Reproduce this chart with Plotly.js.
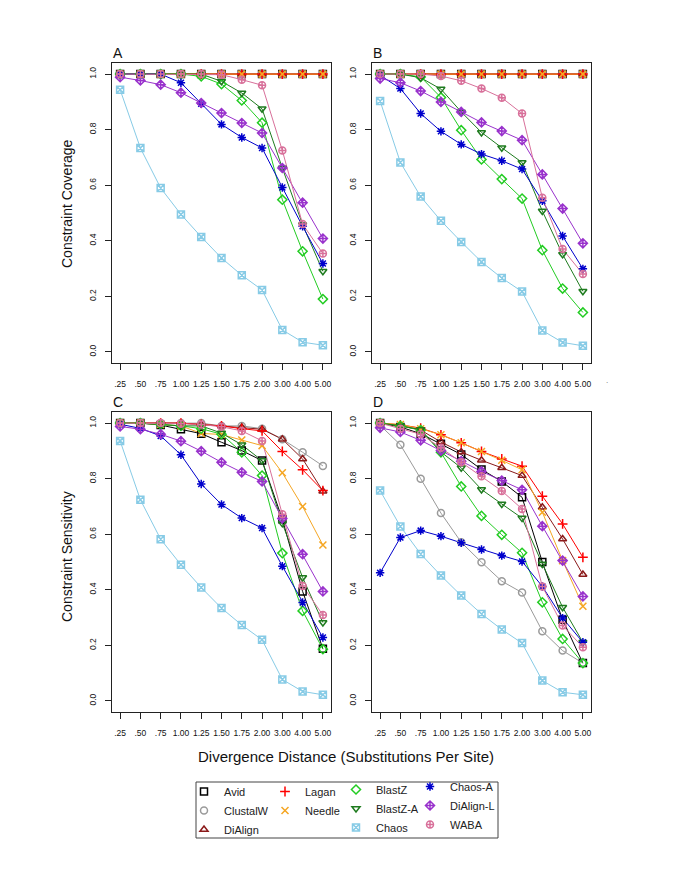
<!DOCTYPE html>
<html>
<head>
<meta charset="utf-8">
<script src="https://cdn.plot.ly/plotly-3.0.1.min.js"></script>
<style>html,body{margin:0;padding:0;background:#fff;}#chart{width:685px;height:886px;}</style>
</head>
<body>
<div id="chart"></div>
<script>
// ---- categories / tick labels ----
const distances = [".25", ".50", ".75", "1.00", "1.25", "1.50", "1.75", "2.00", "3.00", "4.00", "5.00"];
const yTickVals = [0, 0.2, 0.4, 0.6, 0.8, 1.0];
const yTickText = ["0.0", "0.2", "0.4", "0.6", "0.8", "1.0"];
const methods = ["Avid", "ClustalW", "DiAlign", "Lagan", "Needle", "BlastZ", "BlastZ-A", "Chaos", "Chaos-A", "DiAlign-L", "WABA"];

// ---- Panel A: constraint coverage ----
const A_Avid     = [1, 1, 1, 1, 1, 1, 1, 1, 1, 1, 1];
const A_ClustalW = [1, 1, 1, 1, 1, 1, 1, 1, 1, 1, 1];
const A_DiAlign  = [1, 1, 1, 1, 1, 1, 1, 1, 1, 1, 1];
const A_Lagan    = [1, 1, 1, 1, 1, 1, 1, 1, 1, 1, 1];
const A_Needle   = [1, 1, 1, 1, 1, 1, 1, 1, 1, 1, 1];
const A_BlastZ   = [1, 1, 1, 1, 0.992, 0.964, 0.905, 0.825, 0.548, 0.362, 0.19];
const A_BlastZA  = [1, 1, 1, 1, 1, 0.974, 0.932, 0.875, 0.662, 0.458, 0.29];
const A_Chaos    = [0.944, 0.734, 0.590, 0.495, 0.414, 0.338, 0.276, 0.223, 0.079, 0.035, 0.024];
const A_ChaosA   = [1, 1, 1, 0.969, 0.893, 0.819, 0.772, 0.734, 0.592, 0.452, 0.318];
const A_DiAlignL = [0.989, 0.977, 0.962, 0.933, 0.896, 0.860, 0.824, 0.788, 0.662, 0.537, 0.408];
const A_WABA     = [1, 1, 1, 1, 1, 0.998, 0.98, 0.96, 0.725, 0.46, 0.354];

// ---- Panel B: constraint coverage ----
const B_Avid     = [1, 1, 1, 1, 1, 1, 1, 1, 1, 1, 1];
const B_ClustalW = [1, 1, 1, 1, 1, 1, 1, 1, 1, 1, 1];
const B_DiAlign  = [1, 1, 1, 1, 1, 1, 1, 1, 1, 1, 1];
const B_Lagan    = [1, 1, 1, 1, 1, 1, 1, 1, 1, 1, 1];
const B_Needle   = [1, 1, 1, 1, 1, 1, 1, 1, 1, 1, 1];
const B_BlastZ   = [1, 1, 0.99, 0.916, 0.798, 0.693, 0.622, 0.552, 0.366, 0.228, 0.142];
const B_BlastZA  = [1, 1, 0.987, 0.946, 0.864, 0.79, 0.735, 0.682, 0.507, 0.351, 0.218];
const B_Chaos    = [0.903, 0.682, 0.559, 0.472, 0.396, 0.324, 0.266, 0.217, 0.077, 0.034, 0.022];
const B_ChaosA   = [0.996, 0.948, 0.858, 0.794, 0.747, 0.712, 0.688, 0.658, 0.544, 0.417, 0.299];
const B_DiAlignL = [0.984, 0.969, 0.939, 0.900, 0.864, 0.826, 0.795, 0.762, 0.639, 0.516, 0.391];
const B_WABA     = [1, 1, 1, 0.993, 0.976, 0.948, 0.915, 0.858, 0.555, 0.37, 0.28];

// ---- Panel C: constraint sensitivity ----
const C_Avid     = [1, 1, 0.993, 0.978, 0.962, 0.931, 0.901, 0.865, 0.654, 0.394, 0.188];
const C_ClustalW = [1, 1, 1, 1, 1, 0.99, 0.99, 0.98, 0.942, 0.895, 0.846];
const C_DiAlign  = [1, 1, 1, 1, 0.995, 0.99, 0.985, 0.978, 0.942, 0.871, 0.755];
const C_Lagan    = [1, 1, 1, 1, 0.995, 0.99, 0.98, 0.972, 0.898, 0.832, 0.757];
const C_Needle   = [1, 1, 0.995, 0.99, 0.963, 0.959, 0.939, 0.919, 0.821, 0.70, 0.561];
const C_BlastZ   = [1, 1, 0.995, 0.99, 0.98, 0.96, 0.895, 0.811, 0.532, 0.324, 0.186];
const C_BlastZA  = [1, 1, 0.995, 0.99, 0.99, 0.964, 0.922, 0.865, 0.639, 0.444, 0.282];
const C_Chaos    = [0.936, 0.724, 0.582, 0.49, 0.408, 0.334, 0.273, 0.22, 0.077, 0.034, 0.022];
const C_ChaosA   = [0.996, 0.981, 0.954, 0.886, 0.781, 0.707, 0.658, 0.622, 0.485, 0.354, 0.228];
const C_DiAlignL = [0.988, 0.978, 0.96, 0.935, 0.899, 0.859, 0.823, 0.79, 0.657, 0.528, 0.394];
const C_WABA     = [1, 1, 1, 0.998, 0.995, 0.987, 0.972, 0.936, 0.672, 0.414, 0.309];

// ---- Panel D: constraint sensitivity ----
const D_Avid     = [1, 0.986, 0.962, 0.926, 0.887, 0.833, 0.79, 0.733, 0.5, 0.292, 0.136];
const D_ClustalW = [0.992, 0.922, 0.80, 0.676, 0.571, 0.499, 0.431, 0.39, 0.251, 0.181, 0.136];
const D_DiAlign  = [1, 0.99, 0.975, 0.932, 0.896, 0.866, 0.839, 0.811, 0.697, 0.583, 0.455];
const D_Lagan    = [1, 0.994, 0.982, 0.958, 0.929, 0.898, 0.871, 0.845, 0.737, 0.637, 0.517];
const D_Needle   = [1, 0.995, 0.98, 0.958, 0.929, 0.898, 0.866, 0.832, 0.679, 0.505, 0.341];
const D_BlastZ   = [1, 0.99, 0.975, 0.895, 0.772, 0.666, 0.598, 0.533, 0.355, 0.223, 0.136];
const D_BlastZA  = [1, 0.99, 0.977, 0.896, 0.839, 0.761, 0.709, 0.658, 0.493, 0.337, 0.211];
const D_Chaos    = [0.757, 0.628, 0.529, 0.451, 0.379, 0.313, 0.257, 0.208, 0.073, 0.031, 0.022];
const D_ChaosA   = [0.461, 0.588, 0.613, 0.593, 0.569, 0.545, 0.523, 0.502, 0.412, 0.298, 0.211];
const D_DiAlignL = [0.983, 0.968, 0.938, 0.901, 0.863, 0.826, 0.793, 0.76, 0.629, 0.505, 0.376];
const D_WABA     = [1, 0.98, 0.96, 0.911, 0.859, 0.809, 0.756, 0.691, 0.412, 0.271, 0.193];

// ---- styles ----
const styles = {
  "Avid":      {color: "#000000", symbol: "square-open",        legend: "legend"},
  "ClustalW":  {color: "#9a9a9a", symbol: "circle-open",        legend: "legend"},
  "DiAlign":   {color: "#8b1a1a", symbol: "triangle-up-open",   legend: "legend"},
  "Lagan":     {color: "#ff0000", symbol: "cross-thin-open",    legend: "legend2"},
  "Needle":    {color: "#f5a623", symbol: "x-thin-open",        legend: "legend2"},
  "BlastZ":    {color: "#22cc22", symbol: "diamond-open",       legend: "legend3"},
  "BlastZ-A":  {color: "#1e7b1e", symbol: "triangle-down-open", legend: "legend3"},
  "Chaos":     {color: "#87cbe6", symbol: "square-x-open",      legend: "legend3"},
  "Chaos-A":   {color: "#0000cc", symbol: "asterisk-open",      legend: "legend4"},
  "DiAlign-L": {color: "#9932cc", symbol: "diamond-cross-open", legend: "legend4"},
  "WABA":      {color: "#d8709a", symbol: "circle-cross-open",  legend: "legend4"}
};

const panels = [
  {xa: "x",  ya: "y",  series: [A_Avid, A_ClustalW, A_DiAlign, A_Lagan, A_Needle, A_BlastZ, A_BlastZA, A_Chaos, A_ChaosA, A_DiAlignL, A_WABA], legend: true},
  {xa: "x2", ya: "y2", series: [B_Avid, B_ClustalW, B_DiAlign, B_Lagan, B_Needle, B_BlastZ, B_BlastZA, B_Chaos, B_ChaosA, B_DiAlignL, B_WABA], legend: false},
  {xa: "x3", ya: "y3", series: [C_Avid, C_ClustalW, C_DiAlign, C_Lagan, C_Needle, C_BlastZ, C_BlastZA, C_Chaos, C_ChaosA, C_DiAlignL, C_WABA], legend: false},
  {xa: "x4", ya: "y4", series: [D_Avid, D_ClustalW, D_DiAlign, D_Lagan, D_Needle, D_BlastZ, D_BlastZA, D_Chaos, D_ChaosA, D_DiAlignL, D_WABA], legend: false}
];

const traces = [];
panels.forEach(p => {
  methods.forEach((m, i) => {
    const s = styles[m];
    traces.push({
      type: "scatter", mode: "lines", x: distances, y: p.series[i],
      xaxis: p.xa, yaxis: p.ya, name: m, showlegend: false, hoverinfo: "skip",
      line: {color: s.color, width: 1}
    });
  });
  methods.forEach((m, i) => {
    const s = styles[m];
    traces.push({
      type: "scatter", mode: "markers", x: distances, y: p.series[i],
      xaxis: p.xa, yaxis: p.ya, name: m, showlegend: p.legend, legend: s.legend,
      marker: {symbol: s.symbol, size: 7, color: s.color, line: {color: s.color, width: 1.5}}
    });
  });
});

const W = 685, H = 886;
const px = v => v / W;
const py = v => 1 - v / H;

function xAxis(l, r, anchor) {
  return {
    domain: [px(l), px(r)], anchor: anchor, type: "category",
    categoryarray: distances, categoryorder: "array",
    range: [-0.4, 10.4], showline: true, mirror: true, linecolor: "#222", linewidth: 1,
    ticks: "outside", ticklen: 6, tickcolor: "#222", tickwidth: 1,
    tickfont: {size: 8.5, color: "#111"}, ticklabelstandoff: 7,
    showgrid: false, zeroline: false, fixedrange: true
  };
}
function yAxis(t, b, anchor) {
  return {
    domain: [py(b), py(t)], anchor: anchor, range: [-0.04, 1.04],
    tickvals: yTickVals, ticktext: yTickText, tickangle: -90,
    showline: true, mirror: true, linecolor: "#222", linewidth: 1,
    ticks: "outside", ticklen: 6, tickcolor: "#222", tickwidth: 1,
    tickfont: {size: 8.5, color: "#111"}, ticklabelstandoff: 6,
    showgrid: false, zeroline: false, fixedrange: true
  };
}

const legendBase = {
  yanchor: "top", xanchor: "left", orientation: "v",
  bgcolor: "rgba(0,0,0,0)", borderwidth: 0,
  font: {size: 11, color: "#222"}, itemclick: false, itemdoubleclick: false
};

const layout = {
  width: W, height: H,
  margin: {l: 0, r: 0, t: 0, b: 0},
  paper_bgcolor: "#fff", plot_bgcolor: "#fff",
  font: {family: "Liberation Sans, Arial, sans-serif", color: "#111"},
  showlegend: true,
  xaxis:  xAxis(112, 331, "y"),
  yaxis:  yAxis(63, 363, "x"),
  xaxis2: xAxis(372, 591, "y2"),
  yaxis2: yAxis(63, 363, "x2"),
  xaxis3: xAxis(112, 331, "y3"),
  yaxis3: yAxis(412, 712, "x3"),
  xaxis4: xAxis(372, 591, "y4"),
  yaxis4: yAxis(412, 712, "x4"),
  legend:  Object.assign({}, legendBase, {x: px(184), y: py(777)}),
  legend2: Object.assign({}, legendBase, {x: px(265), y: py(777)}),
  legend3: Object.assign({}, legendBase, {x: px(336), y: py(775)}),
  legend4: Object.assign({}, legendBase, {x: px(410), y: py(772)}),
  shapes: [
    {type: "rect", xref: "paper", yref: "paper", x0: px(196), x1: px(498), y0: py(838), y1: py(782),
     line: {color: "#444", width: 1}, fillcolor: "rgba(0,0,0,0)"}
  ],
  annotations: [
    {text: "A", x: px(111), y: py(53), xref: "paper", yref: "paper", xanchor: "left", yanchor: "middle", showarrow: false, font: {size: 14}},
    {text: "B", x: px(371), y: py(53), xref: "paper", yref: "paper", xanchor: "left", yanchor: "middle", showarrow: false, font: {size: 14}},
    {text: "C", x: px(111), y: py(402), xref: "paper", yref: "paper", xanchor: "left", yanchor: "middle", showarrow: false, font: {size: 14}},
    {text: "D", x: px(371), y: py(402), xref: "paper", yref: "paper", xanchor: "left", yanchor: "middle", showarrow: false, font: {size: 14}},
    {text: "Constraint Coverage", x: px(67), y: py(204), xref: "paper", yref: "paper", textangle: -90, xanchor: "center", yanchor: "middle", showarrow: false, font: {size: 14}},
    {text: "Constraint Sensitivity", x: px(67), y: py(557), xref: "paper", yref: "paper", textangle: -90, xanchor: "center", yanchor: "middle", showarrow: false, font: {size: 14}},
    {text: "Divergence Distance (Substitutions Per Site)", x: px(346), y: py(756), xref: "paper", yref: "paper", xanchor: "center", yanchor: "middle", showarrow: false, font: {size: 15}},
    {text: ".", x: px(607), y: py(381), xref: "paper", yref: "paper", xanchor: "center", yanchor: "middle", showarrow: false, font: {size: 8, color: "#666"}}
  ]
};

Plotly.newPlot("chart", traces, layout, {displayModeBar: false, staticPlot: true});
</script>
</body>
</html>
